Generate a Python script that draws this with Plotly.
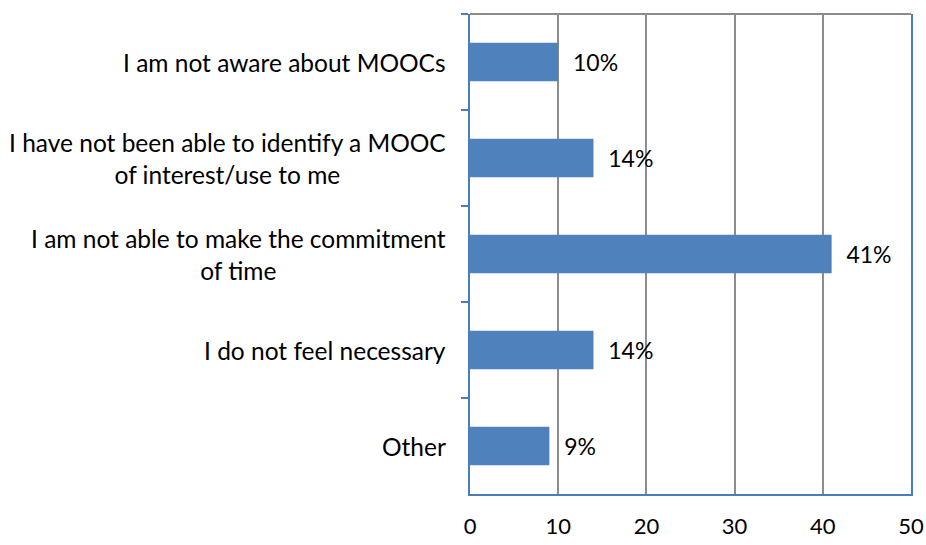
import plotly.graph_objects as go

# data
reasons = [
    "I am not aware about MOOCs",
    "I have not been able to identify a MOOC<br>of interest/use to me",
    "I am not able to make the commitment<br>of time",
    "I do not feel necessary",
    "Other",
]
shares = [10, 14, 41, 14, 9]
share_labels = ["10%", "14%", "41%", "14%", "9%"]
x_ticks = [0, 10, 20, 30, 40, 50]

blue = "#4f81bd"
axis_blue = "#4a7ebb"
grid_gray = "#8c8c8c"
font_name = "Lato, Open Sans, sans-serif"

fig = go.Figure()
fig.add_trace(go.Bar(
    y=reasons,
    x=shares,
    orientation="h",
    marker=dict(color=blue, line=dict(width=0)),
    width=0.4,
    text=["  " + t for t in share_labels],
    textposition="outside",
    textfont=dict(size=23, color="#000000", family=font_name),
    cliponaxis=False,
    showlegend=False,
))

# category labels as annotations so the two-line ones are centred
for r in reasons:
    fig.add_annotation(
        x=0, xref="paper", y=r, yref="y",
        text=r, showarrow=False,
        xanchor="right", align="center",
        xshift=-22,
        font=dict(size=24.5, color="#000000", family=font_name),
    )

# grey top border of the plot area
fig.add_shape(type="line", xref="paper", yref="paper",
              x0=0, x1=1, y0=1, y1=1,
              line=dict(color=grid_gray, width=2))

fig.update_xaxes(
    range=[0, 50],
    tickvals=x_ticks,
    showgrid=True, gridcolor=grid_gray, gridwidth=2,
    showline=True, linecolor=axis_blue, linewidth=2,
    zeroline=False,
    ticks="",
    ticklabelstandoff=12,
    automargin=False,
    tickfont=dict(size=22, color="#000000", family=font_name),
)
fig.update_yaxes(
    categoryorder="array", categoryarray=reasons,
    autorange="reversed",
    showticklabels=False,
    showgrid=False,
    automargin=False,
    showline=True, linecolor=axis_blue, linewidth=2, mirror=True,
    ticks="outside", tickson="boundaries", ticklen=7, tickcolor=axis_blue, tickwidth=2,
)

fig.update_layout(
    width=926, height=545,
    margin=dict(l=470, r=15, t=14, b=51),
    plot_bgcolor="#ffffff", paper_bgcolor="#ffffff",
    bargap=0.6,
    font=dict(family=font_name),
)

# drop the default 8px body margin so the figure sits flush in the window
fig.write_html(
    "out.html",
    config={"displayModeBar": False},
    post_script="document.body.style.margin='0px';",
)
